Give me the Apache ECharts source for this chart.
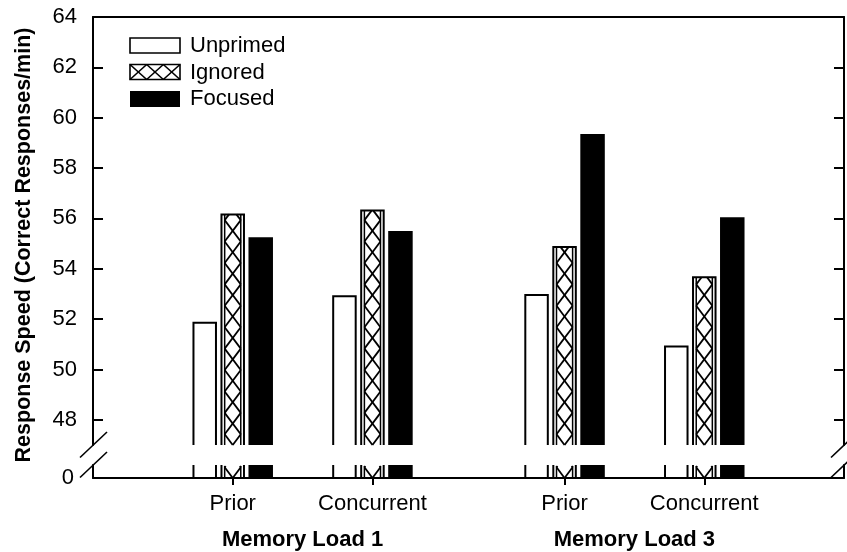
<!DOCTYPE html>
<html>
<head>
<meta charset="utf-8">
<script src="https://cdn.jsdelivr.net/npm/echarts@6/dist/echarts.min.js"></script>
<style>
  html, body { margin: 0; padding: 0; background: #fff; }
  #chart { width: 847px; height: 552px; }
</style>
</head>
<body>
<div id="chart"></div>
<script>
// ---- data ----
const conditions = ['Prior', 'Concurrent', 'Prior', 'Concurrent'];
const memoryLoads = ['Memory Load 1', 'Memory Load 3'];
const seriesNames = ['Unprimed', 'Ignored', 'Focused'];
const unprimed = [51.9, 52.95, 53.0, 50.95];
const ignored = [56.2, 56.35, 54.9, 53.7];
const focused = [55.25, 55.5, 59.35, 56.05];
const upperTicks = [48, 50, 52, 54, 56, 58, 60, 62, 64];
const lowerTicks = [0];
const yTitle = 'Response Speed (Correct Responses/min)';

// ---- layout ----
const slotX = [2, 4, 6.75, 8.75];   // x-axis positions of the four condition slots
const groupX = [3, 7.75];           // x-axis positions of the memory-load captions
const X_MAX = 10.75;
const LEFT = 93, RIGHT = 844, TOP = 17;
const BREAK_TOP = 445, BREAK_BOTTOM = 465, BOTTOM = 478;
const UPPER_MIN = 47, UPPER_MAX = 64, LOWER_MAX = 0.5;
const BAR_W = 24.5, BAR_STEP = 28;
const HATCH_RATIO = 1.33;
const FONT = '"Liberation Sans", Arial, Helvetica, sans-serif';

const valueSets = [unprimed, ignored, focused];

// Liang-Barsky clip of a segment against a box
function clipSegment(x1, y1, x2, y2, xmin, xmax, ymin, ymax) {
  let t0 = 0, t1 = 1;
  const dx = x2 - x1, dy = y2 - y1;
  const checks = [[-dx, x1 - xmin], [dx, xmax - x1], [-dy, y1 - ymin], [dy, ymax - y1]];
  for (const [p, q] of checks) {
    if (p === 0) { if (q < 0) return null; continue; }
    const r = q / p;
    if (p < 0) { if (r > t1) return null; if (r > t0) t0 = r; }
    else { if (r < t0) return null; if (r < t1) t1 = r; }
  }
  if (t1 - t0 < 1e-6) return null;
  return [x1 + t0 * dx, y1 + t0 * dy, x1 + t1 * dx, y1 + t1 * dy];
}

function lineEl(s, w) {
  return { type: 'line', shape: { x1: s[0], y1: s[1], x2: s[2], y2: s[3] },
           style: { stroke: '#000', lineWidth: w, fill: null } };
}

// cross-hatch cells stacked upward from the bar base
function verticalHatch(x0, x1, yTop, yBase) {
  const p = (x1 - x0) * HATCH_RATIO;
  const out = [];
  for (let yc = yBase; yc + p / 2 > yTop; yc -= p) {
    const diag = [[x0, yc - p / 2, x1, yc + p / 2], [x0, yc + p / 2, x1, yc - p / 2]];
    for (const d of diag) {
      const s = clipSegment(d[0], d[1], d[2], d[3], x0, x1, yTop, yBase);
      if (s) out.push(lineEl(s, 1.8));
    }
  }
  return out;
}

// cross-hatch cells laid side by side (legend swatch)
function horizontalHatch(x0, x1, y0, y1) {
  const p = (x1 - x0) / 3;
  const out = [];
  for (let xs = x0; xs < x1 - 0.5; xs += p) {
    const diag = [[xs, y0, xs + p, y1], [xs, y1, xs + p, y0]];
    for (const d of diag) {
      const s = clipSegment(d[0], d[1], d[2], d[3], x0, x1, y0, y1);
      if (s) out.push(lineEl(s, 1.6));
    }
  }
  return out;
}

function makeRenderItem(kind, part) {
  return function (params, api) {
    const xv = api.value(0), v = api.value(1);
    const lo = part === 'upper' ? UPPER_MIN : 0;
    const hi = part === 'upper' ? Math.min(v, UPPER_MAX) : LOWER_MAX;
    const pBase = api.coord([xv, lo]);
    const pTop = api.coord([xv, hi]);
    const cx = pBase[0] + (kind - 1) * BAR_STEP;
    const xl = cx - BAR_W / 2, xr = cx + BAR_W / 2;
    const yb = pBase[1], yt = pTop[1];
    const children = [];
    if (kind === 2) {
      children.push({ type: 'rect', shape: { x: xl, y: yt, width: BAR_W, height: yb - yt },
                      style: { fill: '#000' } });
      return { type: 'group', children };
    }
    children.push({ type: 'rect', shape: { x: xl, y: yt, width: BAR_W, height: yb - yt },
                    style: { fill: '#fff' } });
    if (kind === 1) {
      const ix0 = xl + 4.2, ix1 = xr - 4.2;
      children.push(...verticalHatch(ix0, ix1, yt + 1, yb));
      children.push(lineEl([ix0, yt + 1, ix0, yb], 1.5));
      children.push(lineEl([ix1, yt + 1, ix1, yb], 1.5));
    }
    // outline, left open where the bar is cut by the axis break
    if (part === 'upper') {
      const pts = [[xl + 1, yb], [xl + 1, yt + 1], [xr - 1, yt + 1], [xr - 1, yb]];
      children.push({ type: 'polyline', shape: { points: pts },
                      style: { stroke: '#000', lineWidth: 2, fill: null } });
    } else {
      children.push(lineEl([xl + 1, yt, xl + 1, yb], 2));
      children.push(lineEl([xr - 1, yt, xr - 1, yb], 2));
    }
    return { type: 'group', children };
  };
}

const series = [];
valueSets.forEach((vals, kind) => {
  const data = slotX.map((x, i) => [x, vals[i]]);
  series.push({
    type: 'custom', name: seriesNames[kind], xAxisIndex: 0, yAxisIndex: 0,
    renderItem: makeRenderItem(kind, 'upper'), data, z: 2
  });
  series.push({
    type: 'custom', name: seriesNames[kind], xAxisIndex: 1, yAxisIndex: 2,
    renderItem: makeRenderItem(kind, 'lower'), data, z: 2
  });
});

const axisLineStyle = { color: '#000', width: 2 };
const labelStyle = { color: '#000', fontSize: 22, fontFamily: FONT };

// legend swatches and labels
const legendTops = [38, 64.5, 91];
const legendGraphic = [];
seriesNames.forEach((name, k) => {
  const x0 = 130, w = 50, h = 15, y0 = legendTops[k];
  if (k === 2) {
    legendGraphic.push({ type: 'rect', shape: { x: x0, y: y0, width: w, height: h + 1 },
                         style: { fill: '#000' } });
  } else {
    legendGraphic.push({ type: 'rect', shape: { x: x0, y: y0, width: w, height: h },
                         style: { fill: '#fff', stroke: '#000', lineWidth: 1.6 } });
    if (k === 1) legendGraphic.push(...horizontalHatch(x0, x0 + w, y0, y0 + h));
  }
  legendGraphic.push({ type: 'text', x: 190, y: y0 + h / 2 + 0.5,
    style: { text: name, fill: '#000', fontSize: 22, fontFamily: FONT,
             align: 'left', verticalAlign: 'middle' } });
});

// axis-break slashes on both vertical axes
const breakMarks = [];
[LEFT, RIGHT].forEach(x => {
  [BREAK_TOP, BREAK_BOTTOM].forEach(y => {
    breakMarks.push({ type: 'line', shape: { x1: x - 13, y1: y + 12.5, x2: x + 14, y2: y - 13 },
                      style: { stroke: '#000', lineWidth: 1.6 } });
  });
});

const option = {
  animation: false,
  backgroundColor: '#fff',
  grid: [
    { left: LEFT, top: TOP, width: RIGHT - LEFT, height: BREAK_TOP - TOP,
      containLabel: false, outerBoundsMode: 'none' },
    { left: LEFT, top: BREAK_BOTTOM, width: RIGHT - LEFT, height: BOTTOM - BREAK_BOTTOM,
      containLabel: false, outerBoundsMode: 'none' }
  ],
  xAxis: [
    { type: 'value', gridIndex: 0, position: 'top', min: 0, max: X_MAX, z: 5,
      axisLine: { show: true, onZero: false, lineStyle: axisLineStyle },
      axisTick: { show: false }, axisLabel: { show: false }, splitLine: { show: false } },
    { type: 'value', gridIndex: 1, position: 'bottom', min: 0, max: X_MAX, z: 5,
      axisLine: { show: true, onZero: false, lineStyle: axisLineStyle },
      axisTick: { show: true, customValues: slotX, length: 7, lineStyle: axisLineStyle },
      axisLabel: Object.assign({ customValues: slotX, margin: 15,
        formatter: v => conditions[slotX.indexOf(v)] }, labelStyle),
      splitLine: { show: false } },
    { type: 'value', gridIndex: 1, position: 'bottom', min: 0, max: X_MAX, z: 5,
      axisLine: { show: false }, axisTick: { show: false },
      axisLabel: Object.assign({ customValues: groupX, margin: 51, fontWeight: 'bold',
        formatter: v => memoryLoads[groupX.indexOf(v)] }, labelStyle),
      splitLine: { show: false } }
  ],
  yAxis: [
    { type: 'value', gridIndex: 0, position: 'left', min: UPPER_MIN, max: UPPER_MAX, z: 5,
      axisLine: { show: true, onZero: false, lineStyle: axisLineStyle },
      axisTick: { show: true, inside: true, length: 10, customValues: upperTicks, lineStyle: axisLineStyle },
      axisLabel: Object.assign({ customValues: upperTicks, margin: 16 }, labelStyle),
      splitLine: { show: false } },
    { type: 'value', gridIndex: 0, position: 'right', min: UPPER_MIN, max: UPPER_MAX, z: 5,
      axisLine: { show: true, onZero: false, lineStyle: axisLineStyle },
      axisTick: { show: true, inside: true, length: 10, customValues: upperTicks, lineStyle: axisLineStyle },
      axisLabel: { show: false }, splitLine: { show: false } },
    { type: 'value', gridIndex: 1, position: 'left', min: 0, max: LOWER_MAX, z: 5,
      axisLine: { show: true, onZero: false, lineStyle: axisLineStyle },
      axisTick: { show: false },
      axisLabel: Object.assign({ customValues: lowerTicks, margin: 19 }, labelStyle),
      splitLine: { show: false } },
    { type: 'value', gridIndex: 1, position: 'right', min: 0, max: LOWER_MAX, z: 5,
      axisLine: { show: true, onZero: false, lineStyle: axisLineStyle },
      axisTick: { show: false }, axisLabel: { show: false }, splitLine: { show: false } }
  ],
  graphic: [
    { type: 'group', silent: true, children: legendGraphic },
    { type: 'group', silent: true, children: breakMarks },
    { type: 'text', x: 24, y: 245, rotation: Math.PI / 2, silent: true,
      style: { text: yTitle, fill: '#000', fontSize: 21.5, fontWeight: 'bold', fontFamily: FONT,
               align: 'center', verticalAlign: 'middle' } }
  ],
  series
};

const chart = echarts.init(document.getElementById('chart'), null, { renderer: 'canvas' });
chart.setOption(option);
</script>
</body>
</html>
